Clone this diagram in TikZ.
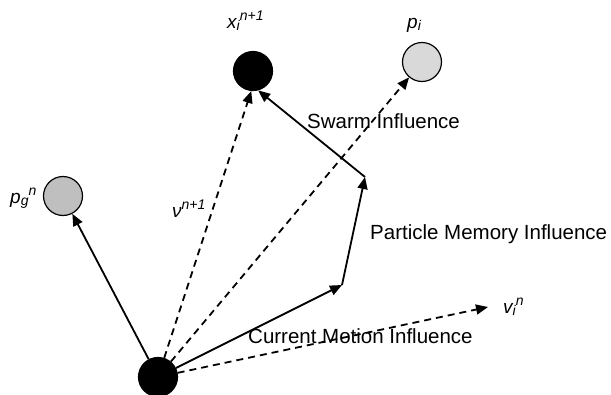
\documentclass[tikz,border=0pt]{standalone}
\usepackage{fontspec}
\setmainfont{Liberation Sans}
\usetikzlibrary{arrows.meta}
\definecolor{lightg}{HTML}{D9D9D9}
\definecolor{midg}{HTML}{BFBFBF}
\newcommand\mysupx[1]{\raisebox{7.5pt}{\fontsize{14}{14}\selectfont #1}}
\newcommand\mysubx[1]{\raisebox{-2.5pt}{\fontsize{14}{14}\selectfont #1}}
\begin{document}
\begin{tikzpicture}[x=1pt,y=-1pt,
  dot/.style={circle,draw=black,line width=1.2pt,minimum size=39pt,inner sep=0pt},
  conn/.style={line width=1.8pt,-{Triangle[length=12pt,width=10pt]}},
  dsh/.style={conn,dash pattern=on 7pt off 5pt},
  lbl/.style={font=\fontsize{20.5}{24}\selectfont,inner sep=0pt,anchor=base west},
  ilbl/.style={font=\fontsize{19}{21}\selectfont\itshape,inner sep=0pt,anchor=base west}]
\useasboundingbox (0,0) rectangle (611,394);
\node[dot,fill=black] (b) at (158,377) {};
\node[dot,fill=black] (x) at (253,71) {};
\node[dot,fill=lightg] (p) at (422,62) {};
\node[dot,fill=midg] (g) at (63,196) {};
\coordinate (m1) at (342,285);
\coordinate (m2) at (365,177);
\coordinate (vt) at (488,307);
\draw[conn] (b) -- (g);
\draw[conn] (b) -- (m1);
\draw[conn] (m1) -- (m2);
\draw[conn] (m2) -- (x.285);
\draw[dsh] (b) -- (x.265);
\draw[dsh] (b) -- (p);
\draw[dsh] (b) -- (vt);
\node[ilbl] (lx) at (227,28) {x\mysubx{i}\mysupx{n+1}};
\node[ilbl] (lp) at (407,28) {p\mysubx{i}};
\node[ilbl] (lg) at (10,203) {p\mysubx{g}\mysupx{n}};
\node[ilbl] (lv) at (503,313) {v\mysubx{i}\mysupx{n}};
\node[ilbl] (lnu) at (172,217) {ν\mysupx{n+1}};
\node[lbl] (sw) at (307,128) {Swarm Influence};
\node[lbl] (pm) at (370,239) {Particle Memory Influence};
\node[lbl] (cm) at (248,343) {Current Motion Influence};
\end{tikzpicture}
\end{document}
